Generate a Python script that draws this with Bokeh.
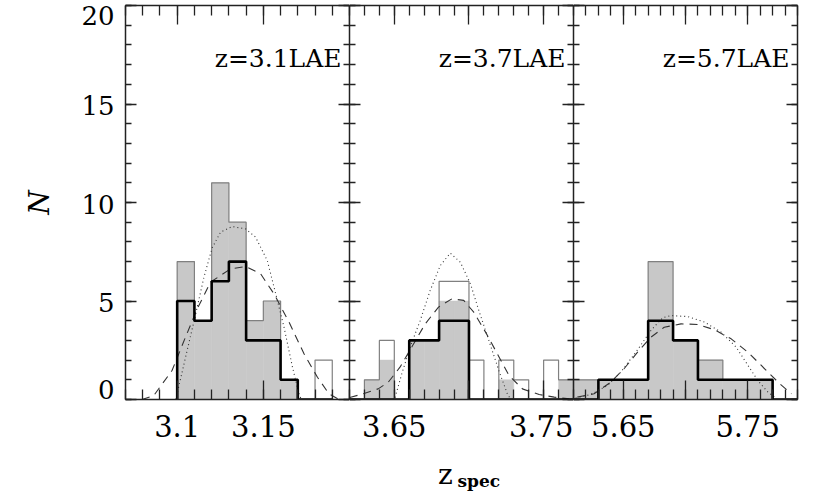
import numpy as np
from bokeh.plotting import figure
from bokeh.layouts import row, column
from bokeh.models import FixedTicker, Label, LinearAxis, Range1d, CustomJSTickFormatter
from bokeh.embed import file_html
from bokeh.resources import INLINE

FONT = "DejaVu Serif"

# ---------------- data ----------------
# Panel 1: z=3.1 LAE (bin width 0.01)
p1_bin_left = [3.10, 3.11, 3.12, 3.13, 3.14, 3.15, 3.16, 3.17, 3.18]
p1_all = [7, 4, 11, 9, 4, 5, 1, 0, 2]
p1_fill = [7, 4, 11, 9, 4, 5, 1, 0, 0]
p1_thick = [5, 4, 6, 7, 3, 3, 1, 0, 0]
p1_dot_x = [3.099, 3.1004, 3.1058, 3.1101, 3.1155, 3.1203, 3.1252, 3.132, 3.1397, 3.1455,
            3.1523, 3.1572, 3.162, 3.1669, 3.1707, 3.172]
p1_dot_y = [0.0, 0.46, 2.5, 4.1, 6.2, 7.7, 8.5, 8.78, 8.66, 8.24, 7.05, 5.36, 3.67, 1.64, 0.29, 0.0]
p1_dash_x = [3.0796, 3.0864, 3.097, 3.1048, 3.1116, 3.1194, 3.131, 3.1397, 3.1484, 3.1562,
             3.1649, 3.1736, 3.1814, 3.1881, 3.194]
p1_dash_y = [0.0, 0.2, 1.47, 3.16, 4.6, 5.96, 6.63, 6.75, 6.38, 5.36, 3.93, 2.32, 1.13, 0.29, 0.0]

# Panel 2: z=3.7 LAE (bin width 0.01)
p2_bin_left = [3.62, 3.63, 3.64, 3.65, 3.66, 3.67, 3.68, 3.69, 3.70, 3.71, 3.72, 3.73, 3.74, 3.75, 3.76]
p2_all = [0, 1, 3, 0, 3, 3, 6, 6, 2, 0, 2, 1, 0, 2, 1]
p2_fill = [0, 1, 2, 0, 3, 3, 5, 5, 0, 0, 1, 0, 0, 0, 1]
p2_thick = [0, 0, 0, 0, 3, 3, 4, 4, 0, 0, 0, 0, 0, 0, 0]
p2_dot_x = [3.6505, 3.655, 3.6606, 3.6673, 3.674, 3.6808, 3.6875, 3.6942, 3.701, 3.7066,
            3.7133, 3.72, 3.7257, 3.728]
p2_dot_y = [0.1, 1.3, 2.66, 4.0, 5.53, 6.8, 7.43, 6.97, 5.87, 4.52, 3.0, 1.47, 0.29, 0.0]
p2_dash_x = [3.6202, 3.6291, 3.6392, 3.646, 3.6538, 3.6617, 3.6707, 3.6796, 3.6886, 3.6965,
             3.7032, 3.7111, 3.719, 3.7268, 3.7358, 3.747, 3.7571, 3.7672]
p2_dash_y = [0.1, 0.29, 0.54, 0.88, 1.64, 2.66, 3.84, 4.69, 5.11, 5.03, 4.43, 3.42, 2.32, 1.22,
             0.54, 0.25, 0.12, 0.03]

# Panel 3: z=5.7 LAE (bin width 0.02)
p3_bin_left = [5.61, 5.63, 5.65, 5.67, 5.69, 5.71, 5.73, 5.75, 5.77]
p3_all = [1, 1, 1, 7, 3, 2, 1, 1, 0]
p3_fill = [1, 1, 1, 7, 3, 2, 1, 1, 0]
p3_thick = [0, 1, 1, 4, 3, 1, 1, 1, 0]
p3_dot_x = [5.6117, 5.6238, 5.6373, 5.648, 5.6601, 5.6722, 5.6816, 5.6883, 5.7018, 5.7152,
            5.7286, 5.7407, 5.7502, 5.7582, 5.7663, 5.7716]
p3_dot_y = [0.08, 0.25, 0.71, 1.39, 2.4, 3.5, 4.15, 4.26, 4.21, 3.93, 3.42, 2.66, 1.73, 0.96, 0.37, 0.12]
p3_dash_x = [5.6131, 5.6265, 5.6399, 5.6506, 5.6615, 5.6722, 5.6829, 5.6964, 5.7098, 5.7233,
             5.7367, 5.7502, 5.7636, 5.7757, 5.7851]
p3_dash_y = [0.12, 0.29, 0.88, 1.56, 2.4, 3.16, 3.67, 3.84, 3.81, 3.54, 3.08, 2.40, 1.56, 0.8, 0.29]

# axes
y_major = [0, 5, 10, 15, 20]
y_minor = list(range(0, 21))
y_labels = ["0", "5", "10", "15", "20"]
p1_xmajor = [3.10, 3.15, 3.20]
p1_xlabels = {3.10: "3.1", 3.15: "3.15", 3.20: ""}
p2_xmajor = [3.65, 3.70, 3.75]
p2_xlabels = {3.65: "3.65", 3.70: "", 3.75: "3.75"}
p3_xmajor = [5.65, 5.70, 5.75]
p3_xlabels = {5.65: "5.65", 5.70: "", 5.75: "5.75"}

AX_COLOR = "#222222"
FILL = "#c8c8c8"
EDGE = "#808080"


def style_axis(ax, major, minor, tin, tmin, labels=None, size="29px", standoff=0):
    ax.ticker = FixedTicker(ticks=major, minor_ticks=minor)
    ax.major_tick_in = tin
    ax.major_tick_out = 0
    ax.minor_tick_in = tmin
    ax.minor_tick_out = 0
    ax.axis_line_color = AX_COLOR
    ax.axis_line_width = 1.5
    ax.major_tick_line_color = AX_COLOR
    ax.minor_tick_line_color = AX_COLOR
    ax.major_tick_line_width = 1.3
    ax.minor_tick_line_width = 1.3
    if labels is None:
        ax.formatter = CustomJSTickFormatter(code="return ''")
        ax.major_label_text_font_size = "1px"
        ax.major_label_standoff = 0
    else:
        ax.major_label_overrides = labels
        ax.major_label_text_font = FONT
        ax.major_label_text_font_size = size
        ax.major_label_text_color = "black"
        ax.major_label_standoff = standoff


def step_xy(left, w, counts):
    xs = [left[0]]
    ys = [0]
    for l, c in zip(left, counts):
        xs += [l, l + w]
        ys += [c, c]
    xs.append(left[-1] + w)
    ys.append(0)
    return xs, ys


def make_panel(xr, bins_left, w, all_c, fill_c, thick_c, dx, dy, sx, sy, xmajor, xlabels, title,
               first=False, last=False):
    p = figure(x_range=Range1d(*xr), y_range=Range1d(0, 20),
               frame_width=224, frame_height=394,
               output_backend="svg", toolbar_location=None,
               min_border_left=125 if first else 0, min_border_right=20 if last else 0,
               min_border_top=5, min_border_bottom=50,
               background_fill_color="white", border_fill_color="white")
    p.outline_line_color = None
    p.grid.visible = False
    xminor = [float(v) for v in np.round(np.arange(xr[0], xr[1] + 1e-9, 0.01), 2)]

    left = np.array(bins_left)
    p.quad(left=left, right=left + w, bottom=0, top=fill_c,
           fill_color=FILL, line_color=FILL, line_width=0.5)
    ox, oy = step_xy(bins_left, w, all_c)
    p.line(ox, oy, line_color=EDGE, line_width=1.2)
    p.line(dx, dy, line_color="#333333", line_width=1.1, line_dash="1 3")
    p.line(sx, sy, line_color="#333333", line_width=1.1, line_dash="8 6")
    tx, ty = step_xy(bins_left, w, thick_c)
    p.line(tx, ty, line_color="black", line_width=2.6)

    style_axis(p.xaxis[0], xmajor, xminor, 19, 10, labels=xlabels, size="29px", standoff=15)
    top = LinearAxis()
    style_axis(top, xmajor, xminor, 19, 10)
    p.add_layout(top, "above")

    # left: ticks-only axis next to the frame
    style_axis(p.yaxis[0], y_major, y_minor, 11, 6)
    if first:
        # label-only axis; end labels sit half a unit inside the frame
        pos = [0.5, 4.9, 9.9, 14.9, 19.47]
        lab = LinearAxis(ticker=FixedTicker(ticks=pos, minor_ticks=[]),
                         major_label_overrides=dict(zip(pos, y_labels)))
        lab.major_tick_in = 0
        lab.major_tick_out = 0
        lab.minor_tick_in = 0
        lab.minor_tick_out = 0
        lab.axis_line_color = None
        lab.major_tick_line_color = None
        lab.minor_tick_line_color = None
        lab.major_label_text_font = FONT
        lab.major_label_text_font_size = "26px"
        lab.major_label_text_color = "black"
        lab.major_label_standoff = 11
        lab.axis_label = "N"
        lab.axis_label_text_font = FONT
        lab.axis_label_text_font_style = "italic"
        lab.axis_label_text_font_size = "28px"
        lab.axis_label_text_color = "black"
        lab.axis_label_standoff = 22
        p.add_layout(lab, "left")
    right = LinearAxis()
    style_axis(right, y_major, y_minor, 11, 6)
    p.add_layout(right, "right")

    p.add_layout(Label(x=216, x_units="screen", y=341, y_units="screen", text=title,
                       text_align="right", text_baseline="alphabetic",
                       text_font=FONT, text_font_size="25px", text_color="black"))
    return p


p1 = make_panel((3.07, 3.20), p1_bin_left, 0.01, p1_all, p1_fill, p1_thick,
                p1_dot_x, p1_dot_y, p1_dash_x, p1_dash_y, p1_xmajor, p1_xlabels, "z=3.1LAE", first=True)
p2 = make_panel((3.62, 3.77), p2_bin_left, 0.01, p2_all, p2_fill, p2_thick,
                p2_dot_x, p2_dot_y, p2_dash_x, p2_dash_y, p2_xmajor, p2_xlabels, "z=3.7LAE")
p3 = make_panel((5.61, 5.79), p3_bin_left, 0.02, p3_all, p3_fill, p3_thick,
                p3_dot_x, p3_dot_y, p3_dash_x, p3_dash_y, p3_xmajor, p3_xlabels, "z=5.7LAE", last=True)

# x axis title strip: z_spec
pt = figure(x_range=Range1d(0, 1), y_range=Range1d(0, 1), frame_width=817, frame_height=46,
            x_axis_type=None, y_axis_type=None, output_backend="svg", toolbar_location=None,
            min_border=0, background_fill_color="white", border_fill_color="white")
pt.outline_line_color = None
pt.grid.visible = False
pt.add_layout(Label(x=445, x_units="screen", y=21, y_units="screen", text="z",
                    text_align="center", text_baseline="alphabetic",
                    text_font=FONT, text_font_size="28px", text_color="black"))
pt.add_layout(Label(x=457, x_units="screen", y=15, y_units="screen", text="spec",
                    text_align="left", text_baseline="alphabetic",
                    text_font=FONT, text_font_size="17px", text_font_style="bold",
                    text_color="black"))

layout = column(row(p1, p2, p3, spacing=0), pt, spacing=0)
open("out.html", "w").write(file_html(layout, INLINE))
